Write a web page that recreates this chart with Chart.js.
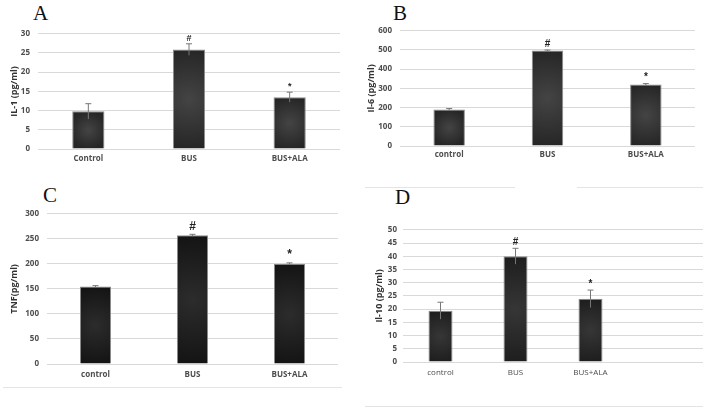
<!DOCTYPE html>
<html>
<head>
<meta charset="utf-8">
<script src="https://cdn.jsdelivr.net/npm/chart.js@4.4.1/dist/chart.umd.min.js"></script>
<style>
  body { margin: 0; background: #fff; width: 705px; height: 408px; position: relative; overflow: hidden; }
  .panel { position: absolute; }
  .letter { position: absolute; font-family: "Liberation Serif", "DejaVu Serif", serif; font-size: 21px; color: #111; line-height: 1; }
  .rule { position: absolute; height: 1px; background: #e4e4e4; }
</style>
</head>
<body>
<div class="letter" style="left:33px;top:3px">A</div>
<div class="letter" style="left:393px;top:3px">B</div>
<div class="letter" style="left:43px;top:185px">C</div>
<div class="letter" style="left:395px;top:187px">D</div>
<div class="rule" style="left:365px;top:187px;width:150px"></div>
<div class="rule" style="left:577px;top:187px;width:126px"></div>
<div class="rule" style="left:3px;top:387px;width:339px"></div>
<div class="rule" style="left:365px;top:406px;width:338px"></div>

<div class="panel" style="left:0px;top:21px;width:340px;height:148px"><canvas id="chartA"></canvas></div>
<div class="panel" style="left:360px;top:18px;width:335px;height:148px"><canvas id="chartB"></canvas></div>
<div class="panel" style="left:0px;top:201px;width:338px;height:183px"><canvas id="chartC"></canvas></div>
<div class="panel" style="left:360px;top:219px;width:343px;height:163px"><canvas id="chartD"></canvas></div>

<script>
// panel A - IL-1
const labelsA = ["Control", "BUS", "BUS+ALA"];
const valuesA = [9.8, 25.9, 13.5];
const errorsA = [2.0, 1.5, 1.3];
const marksA = ["", "#", "*"];

// panel B - Il-6
const labelsB = ["control", "BUS", "BUS+ALA"];
const valuesB = [190, 497, 320];
const errorsB = [5, 3, 5];
const marksB = ["", "#", "*"];

// panel C - TNF
const labelsC = ["control", "BUS", "BUS+ALA"];
const valuesC = [155, 257, 200];
const errorsC = [1.5, 2, 2];
const marksC = ["", "#", "*"];

// panel D - Il-10 (fourth slot is empty)
const labelsD = ["control", "BUS", "BUS+ALA", ""];
const valuesD = [19.4, 40, 23.9, null];
const errorsD = [3.2, 3, 3.3, 0];
const marksD = ["", "#", "*", ""];

const tickColor = "#4d4d4d";
const gridColor = "#d9d9d9";

// error bars + significance marks, placed via the chart scales
const errorBarPlugin = {
    id: "errorBars",
    afterDatasetsDraw(chart, args, opts) {
        const ctx = chart.ctx;
        const meta = chart.getDatasetMeta(0);
        const y = chart.scales.y;
        ctx.save();
        opts.values.forEach((v, i) => {
            if (v === null) return;
            const x = meta.data[i].x;
            const top = y.getPixelForValue(v + opts.errors[i]);
            const bot = y.getPixelForValue(v - opts.errors[i]);
            ctx.strokeStyle = "#777";
            ctx.lineWidth = 1;
            ctx.beginPath();
            ctx.moveTo(x, bot);
            ctx.lineTo(x, top);
            ctx.moveTo(x - 3, top);
            ctx.lineTo(x + 3, top);
            ctx.stroke();
            if (opts.marks[i]) {
                ctx.fillStyle = "#222";
                ctx.font = "bold " + opts.markSize + "px 'Liberation Sans', Arial, sans-serif";
                ctx.textAlign = "center";
                ctx.textBaseline = "bottom";
                ctx.fillText(opts.marks[i], x, top - opts.markGap);
            }
        });
        ctx.restore();
    }
};

function barFill(edge, mid) {
    return (c) => {
        const chart = c.chart;
        if (!chart.chartArea || c.raw === null || c.raw === undefined) return edge;
        const x = chart.scales.x.getPixelForValue(c.dataIndex);
        const top = chart.scales.y.getPixelForValue(c.raw);
        const base = chart.scales.y.getPixelForValue(0);
        const cy = (top + base) / 2;
        const r = Math.max((base - top) / 2, 10);
        const g = chart.ctx.createRadialGradient(x, cy, 0, x, cy, r);
        g.addColorStop(0, mid);
        g.addColorStop(1, edge);
        return g;
    };
}

function makeChart(id, cfg) {
    new Chart(document.getElementById(id), {
        type: "bar",
        data: {
            labels: cfg.labels,
            datasets: [{
                data: cfg.values,
                backgroundColor: barFill(cfg.edge, cfg.mid),
                borderColor: "#8c8c8c",
                borderWidth: 1,
                barPercentage: 0.32,
                categoryPercentage: 1
            }]
        },
        options: {
            responsive: true,
            maintainAspectRatio: false,
            animation: false,
            layout: { padding: { top: 10, left: 0, right: 0, bottom: 0 } },
            plugins: {
                legend: { display: false },
                tooltip: { enabled: false },
                errorBars: { values: cfg.values, errors: cfg.errors, marks: cfg.marks, markSize: cfg.markSize, markGap: cfg.markGap }
            },
            scales: {
                x: {
                    grid: { display: false, drawTicks: false },
                    border: { display: false },
                    ticks: {
                        color: tickColor,
                        padding: cfg.xPad,
                        maxRotation: 0,
                        font: { family: "'Open Sans', 'Liberation Sans', sans-serif", size: 8, weight: cfg.xBold ? "bold" : "normal" }
                    },
                    afterFit(s) { s.height = 20; }
                },
                y: {
                    min: 0,
                    max: cfg.max,
                    grid: { color: gridColor, drawTicks: false },
                    border: { display: false },
                    ticks: {
                        stepSize: cfg.step,
                        color: tickColor,
                        padding: cfg.yPad,
                        font: { family: "'Open Sans', 'Liberation Sans', sans-serif", size: 8, weight: "bold" }
                    },
                    title: {
                        display: true,
                        text: cfg.title,
                        color: "#333",
                        padding: { top: cfg.titlePad, bottom: 0 },
                        font: { family: "'Open Sans', 'Liberation Sans', sans-serif", size: 9, weight: "bold" }
                    },
                    afterFit(s) { s.width = cfg.yWidth; }
                }
            }
        },
        plugins: [errorBarPlugin]
    });
}

makeChart("chartA", {
    labels: labelsA, values: valuesA, errors: errorsA, marks: marksA,
    max: 30, step: 5, title: "IL-1 (pg/ml)", yWidth: 38, yPad: 8, titlePad: 9,
    xPad: 5, xBold: true, edge: "#262626", mid: "#444444", markSize: 9, markGap: 1
});
makeChart("chartB", {
    labels: labelsB, values: valuesB, errors: errorsB, marks: marksB,
    max: 600, step: 100, title: "Il-6 (pg/ml)", yWidth: 40, yPad: 8, titlePad: 6,
    xPad: 4, xBold: true, edge: "#262626", mid: "#444444", markSize: 10, markGap: 1
});
makeChart("chartC", {
    labels: labelsC, values: valuesC, errors: errorsC, marks: marksC,
    max: 300, step: 50, title: "TNF(pg/ml)", yWidth: 47, yPad: 8, titlePad: 9,
    xPad: 6, xBold: true, edge: "#141414", mid: "#2c2c2c", markSize: 12, markGap: 2
});
makeChart("chartD", {
    labels: labelsD, values: valuesD, errors: errorsD, marks: marksD,
    max: 50, step: 5, title: "Il-10 (pg/ml)", yWidth: 43, yPad: 6, titlePad: 14,
    xPad: 6, xBold: false, edge: "#1e1e1e", mid: "#363636", markSize: 10, markGap: 1
});
</script>
</body>
</html>
